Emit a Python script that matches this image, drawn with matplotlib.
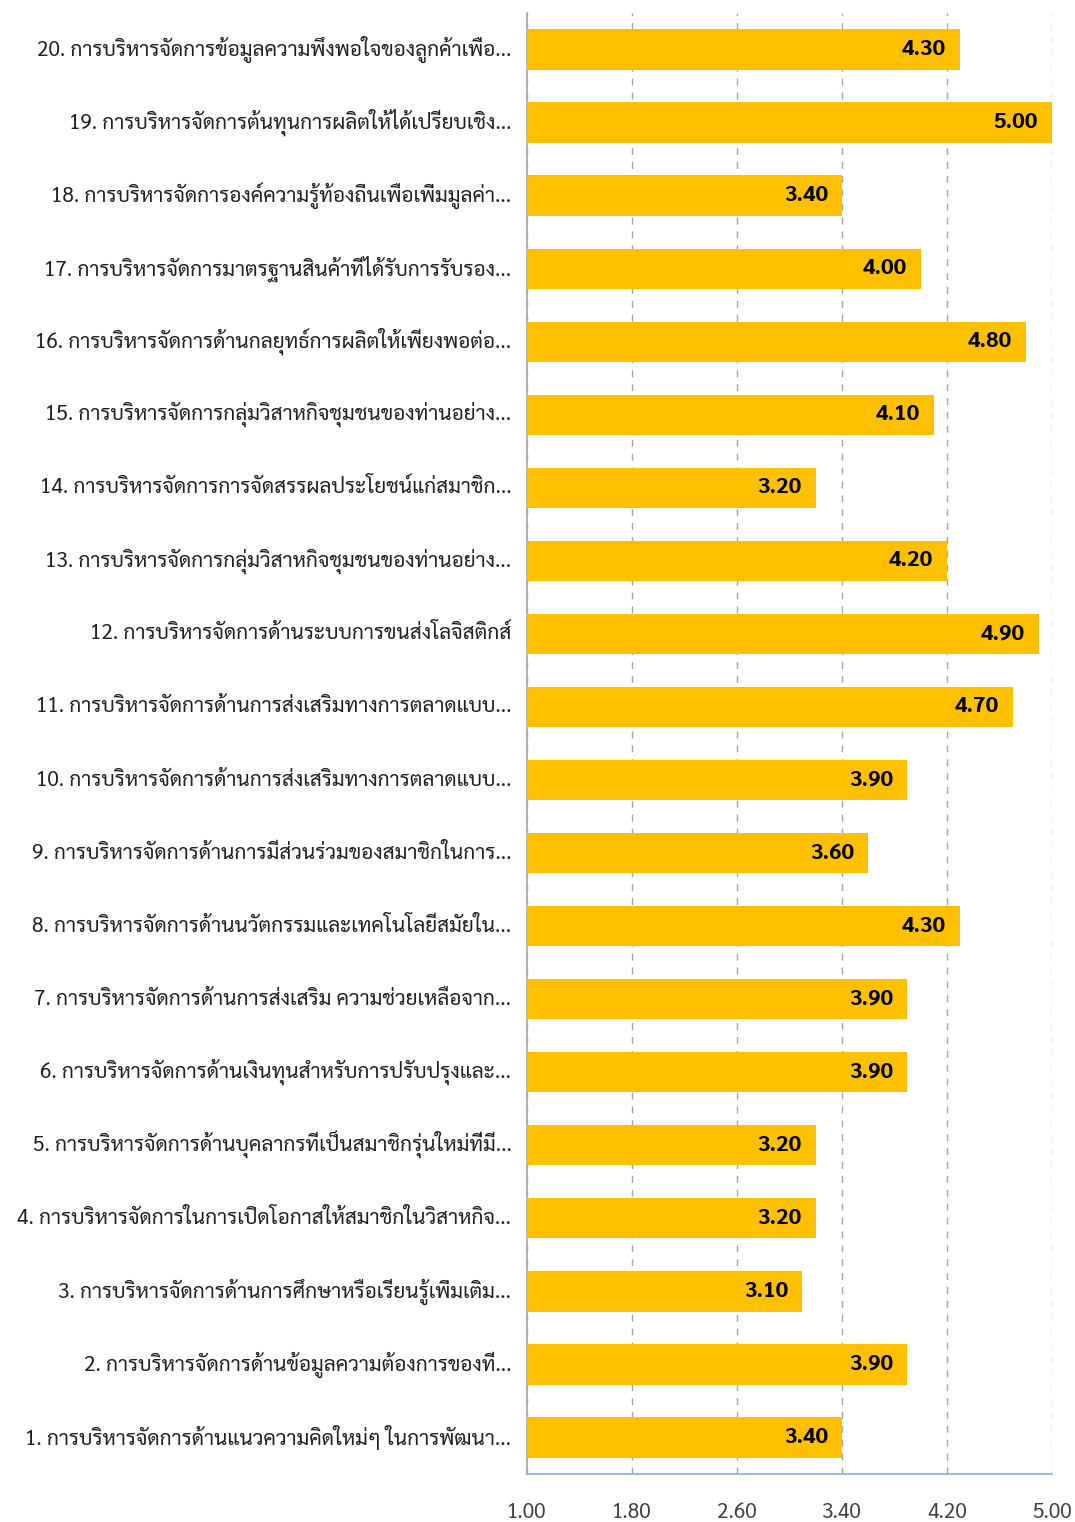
import matplotlib
matplotlib.use("Agg")
import matplotlib.pyplot as plt

# item labels, bottom (1) to top (20)
labels = [
    "1. การบริหารจัดการด้านแนวความคิดใหม่ๆ ในการพัฒนา...",
    "2. การบริหารจัดการด้านข้อมูลความต้องการของที่...",
    "3. การบริหารจัดการด้านการศึกษาหรือเรียนรู้เพิ่มเติม...",
    "4. การบริหารจัดการในการเปิดโอกาสให้สมาชิกในวิสาหกิจ...",
    "5. การบริหารจัดการด้านบุคลากรที่เป็นสมาชิกรุ่นใหม่ที่มี...",
    "6. การบริหารจัดการด้านเงินทุนสำหรับการปรับปรุงและ...",
    "7. การบริหารจัดการด้านการส่งเสริม ความช่วยเหลือจาก...",
    "8. การบริหารจัดการด้านนวัตกรรมและเทคโนโลยีสมัยใน...",
    "9. การบริหารจัดการด้านการมีส่วนร่วมของสมาชิกในการ...",
    "10. การบริหารจัดการด้านการส่งเสริมทางการตลาดแบบ...",
    "11. การบริหารจัดการด้านการส่งเสริมทางการตลาดแบบ...",
    "12. การบริหารจัดการด้านระบบการขนส่งโลจิสติกส์",
    "13. การบริหารจัดการกลุ่มวิสาหกิจชุมชนของท่านอย่าง...",
    "14. การบริหารจัดการการจัดสรรผลประโยชน์แก่สมาชิก...",
    "15. การบริหารจัดการกลุ่มวิสาหกิจชุมชนของท่านอย่าง...",
    "16. การบริหารจัดการด้านกลยุทธ์การผลิตให้เพียงพอต่อ...",
    "17. การบริหารจัดการมาตรฐานสินค้าที่ได้รับการรับรอง...",
    "18. การบริหารจัดการองค์ความรู้ท้องถิ่นเพื่อเพิ่มมูลค่า...",
    "19. การบริหารจัดการต้นทุนการผลิตให้ได้เปรียบเชิง...",
    "20. การบริหารจัดการข้อมูลความพึงพอใจของลูกค้าเพื่อ...",
]
scores = [3.40, 3.90, 3.10, 3.20, 3.20, 3.90, 3.90, 4.30, 3.60, 3.90,
          4.70, 4.90, 4.20, 3.20, 4.10, 4.80, 4.00, 3.40, 5.00, 4.30]
ticks = [1.00, 1.80, 2.60, 3.40, 4.20, 5.00]

plt.rcParams["font.family"] = ["Sarabun", "DejaVu Sans"]

fig = plt.figure(figsize=(10.75, 15.22), dpi=100)
ax = fig.add_axes([0.490, 0.0315, 0.4885, 0.960])

pos = list(range(len(labels)))
ax.barh(pos, scores, height=0.55, color="#FFC000", zorder=3)

for y, v in zip(pos, scores):
    ax.annotate("%.2f" % v, xy=(v, y), xytext=(-10, 0), textcoords="offset points",
                ha="right", va="center", fontsize=16, fontweight="bold", color="black", zorder=4)

ax.set_xlim(1, 5)
ax.set_ylim(-0.5, len(labels) - 0.5)
ax.set_xticks(ticks)
ax.set_xticklabels(["%.2f" % t for t in ticks], fontsize=15, color="#404040")
ax.set_yticks(pos)
ax.set_yticklabels(labels, fontsize=15, color="#202020", va="center")
ax.tick_params(axis="both", length=0)
ax.tick_params(axis="x", pad=20)
ax.tick_params(axis="y", pad=11)

ax.grid(axis="x", color="#A6A6A6", linestyle=(0, (5, 5)), linewidth=1, zorder=0)
for s in ["top", "right"]:
    ax.spines[s].set_visible(False)
ax.spines["left"].set_color("#A6A6A6")
ax.spines["left"].set_linewidth(1.2)
ax.spines["bottom"].set_color("#8EA9DB")
ax.spines["bottom"].set_linewidth(1.2)

fig.savefig("out.png", dpi=100)
